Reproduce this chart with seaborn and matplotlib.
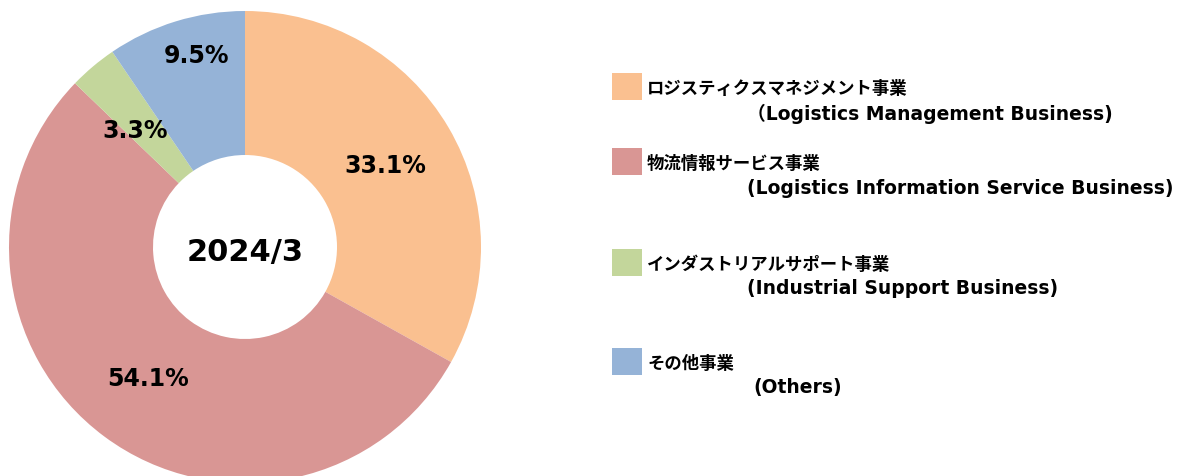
import numpy as np
import matplotlib
matplotlib.use("Agg")
import matplotlib.pyplot as plt
import seaborn as sns
from matplotlib.patches import Rectangle

# ---- data ----
segments_jp = ["ロジスティクスマネジメント事業", "物流情報サービス事業",
               "インダストリアルサポート事業", "その他事業"]
segments_en = ["（Logistics Management Business)", "(Logistics Information Service Business)",
               "(Industrial Support Business)", "(Others)"]
shares = [33.1, 54.1, 3.3, 9.5]
center_label = "2024/3"

colors = ["#FAC090", "#D99694", "#C3D69B", "#95B3D7"]

sns.set_theme(style="white")
plt.rcParams['font.family'] = ['DejaVu Sans', 'Noto Sans CJK JP']
plt.rcParams['text.color'] = 'black'

W, H = 1184, 477
fig = plt.figure(figsize=(W / 100, H / 100), dpi=100)
fig.patch.set_facecolor("white")

# pie axes: centre (245, 248) px, outer radius 236 px
cx, cy, R = 245, 248, 236
ax = fig.add_axes([(cx - R) / W, (H - cy - R) / H, 2 * R / W, 2 * R / H])
ax.set_xlim(-1, 1)
ax.set_ylim(-1, 1)
ax.set_aspect("equal")
ax.axis("off")

inner = 92 / 236
wedges, _ = ax.pie(shares, colors=colors, startangle=90, counterclock=False,
                   radius=1, wedgeprops=dict(width=1 - inner, linewidth=0),
                   frame=False)
ax.set_xlim(-1, 1)
ax.set_ylim(-1, 1)

label_r = [0.69, 0.69, 0.68, 0.84]
label_dtheta = [0, 0, 3, -3]
for w, v, r, dt in zip(wedges, shares, label_r, label_dtheta):
    th = np.deg2rad((w.theta1 + w.theta2) / 2 + dt)
    ax.text(r * np.cos(th), r * np.sin(th), f"{v:.1f}%", ha="center", va="center",
            fontsize=17, fontweight="bold", color="black")

ax.text(0, -0.02, center_label, ha="center", va="center", fontsize=22,
        fontweight="bold", color="black")

# ---- legend ----
patch_tops = [74, 149, 250, 349]
jp_y = [89, 164, 265, 364]
en_y = [114, 189, 289, 388]
en_x = [747, 747, 747, 753]
for c, jp, en, pt, jy, ey, ex in zip(colors, segments_jp, segments_en,
                                    patch_tops, jp_y, en_y, en_x):
    fig.patches.append(Rectangle((612 / W, 1 - (pt + 27) / H), 30 / W, 27 / H,
                                 transform=fig.transFigure, facecolor=c,
                                 edgecolor="none"))
    fig.text(647 / W, 1 - jy / H, jp, ha="left", va="center", fontsize=12.5,
             fontweight="bold", color="black",
             family=['Noto Sans CJK JP', 'DejaVu Sans'])
    fig.text(ex / W, 1 - ey / H, en, ha="left", va="center", fontsize=13.5,
             fontweight="bold", color="black",
             family=['DejaVu Sans', 'Noto Sans CJK JP'])

fig.savefig("out.png", dpi=100, facecolor="white")
